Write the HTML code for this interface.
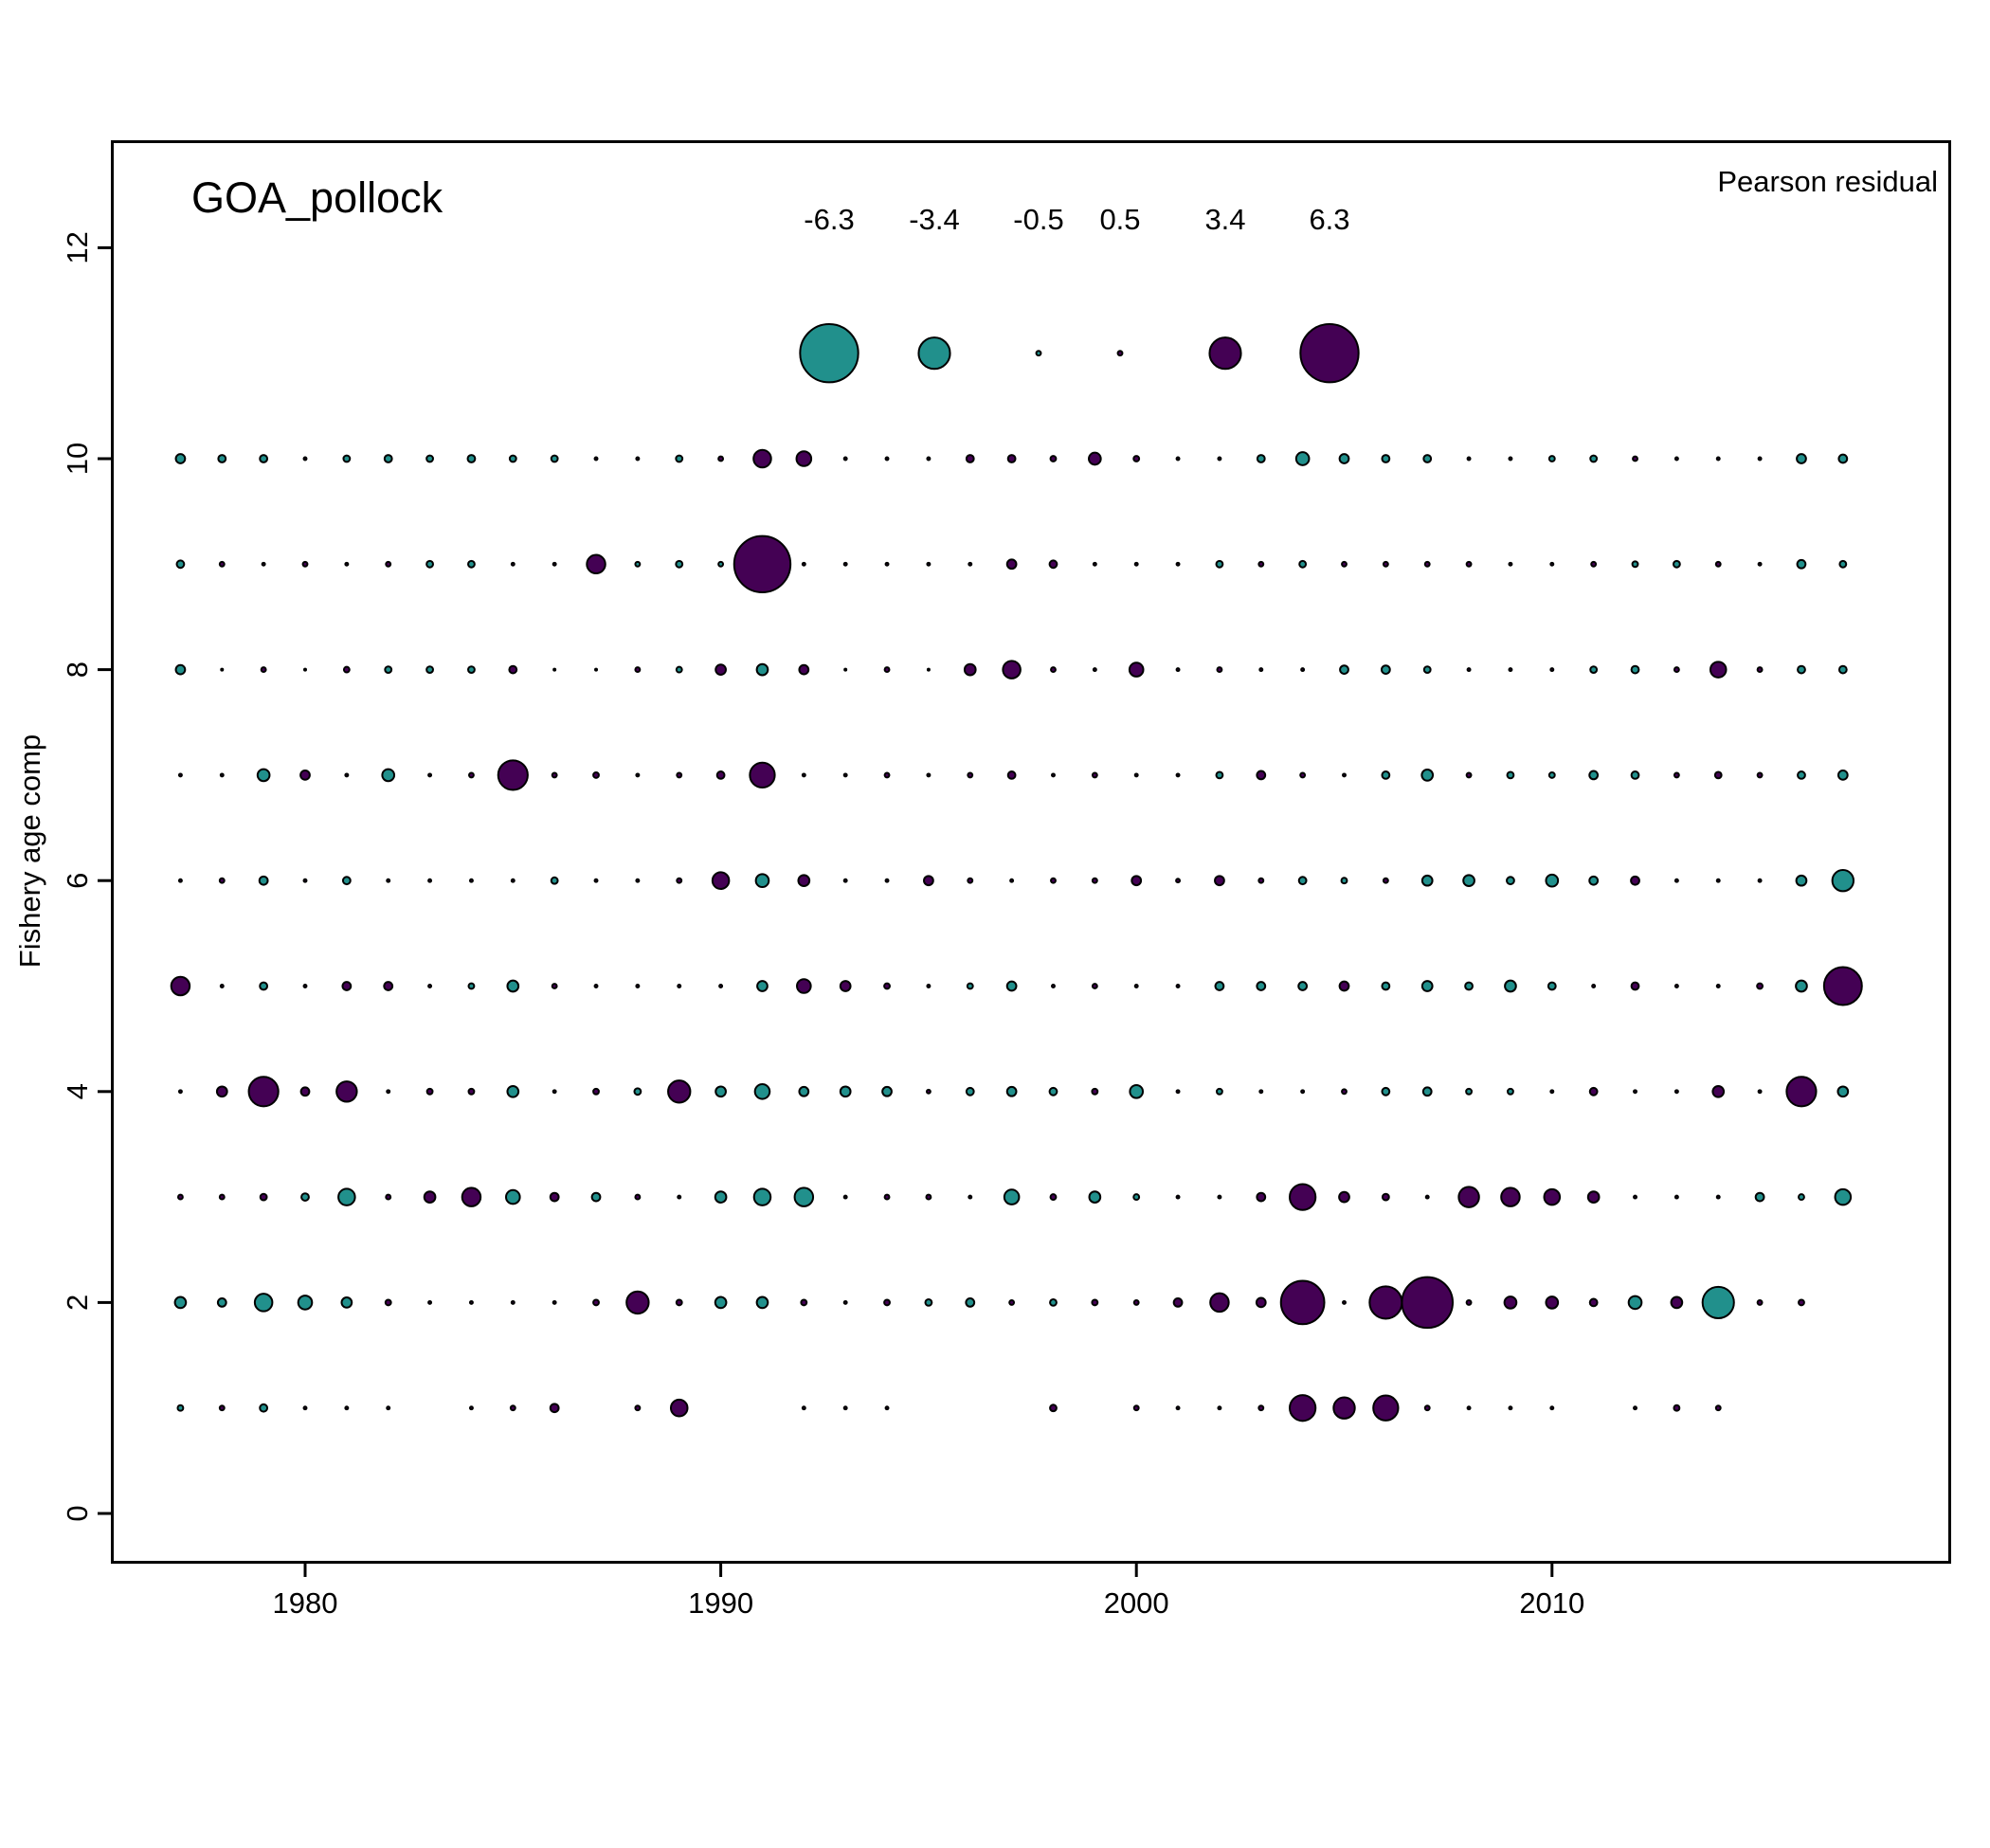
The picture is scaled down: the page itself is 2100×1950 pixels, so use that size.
<!DOCTYPE html>
<html>
<head>
<meta charset="utf-8">
<style>
  html,body{margin:0;padding:0;background:#fff;}
  svg{display:block;font-family:"Liberation Sans",Arial,sans-serif;}
</style>
</head>
<body>
<svg id="chart" width="2100" height="1950" viewBox="0 0 2100 1950" xmlns="http://www.w3.org/2000/svg">
  <rect x="0" y="0" width="2100" height="1950" fill="#fff"/>
  <g id="bubbles"></g>
  <g id="legend"></g>
  <rect x="118.5" y="149.5" width="1939" height="1499" fill="none" stroke="#000" stroke-width="3"/>
  <g id="xaxis"></g>
  <g id="yaxis"></g>
  <text x="202" y="224" font-size="45">GOA_pollock</text>
  <text x="2045" y="202" font-size="31" text-anchor="end">Pearson residual</text>
  <text x="0" y="0" font-size="31" text-anchor="middle" transform="translate(42,898) rotate(-90)">Fishery age comp</text>
</svg>
<script>
const years = [];
for (let y = 1977; y <= 2017; y++) years.push(y);
const ages = [1,2,3,4,5,6,7,8,9,10];
const age1 = [-0.6,0.5,-0.8,0.3,0.3,0.3,null,0.3,0.5,0.9,null,0.5,1.8,null,null,0.3,0.3,0.3,null,null,null,0.7,null,0.5,0.3,0.3,0.5,2.8,2.3,2.7,0.5,0.3,0.3,0.3,null,0.3,0.6,0.5,null,null,null];
const age2 = [-1.2,-0.9,-1.9,-1.5,-1.1,0.6,0.3,0.3,0.3,0.3,0.6,2.4,0.6,-1.2,-1.2,0.6,0.3,0.6,-0.7,-0.9,0.5,-0.7,0.6,0.5,0.9,2.0,1.0,4.7,0.3,3.5,5.5,0.5,1.3,1.3,0.8,-1.4,1.2,-3.4,0.5,0.6,null];
const age3 = [0.5,0.5,0.7,-0.8,-1.8,0.5,1.2,2.0,-1.5,0.9,-0.9,0.5,0.3,-1.2,-1.8,-2.0,0.3,0.5,0.5,0.3,-1.6,0.6,-1.2,-0.6,0.3,0.3,0.9,2.8,1.1,0.7,0.3,2.2,2.0,1.7,1.2,0.3,0.3,0.3,-0.9,-0.6,-1.7];
const age4 = [0.3,1.1,3.2,0.9,2.2,0.3,0.6,0.6,-1.2,0.3,0.6,-0.7,2.4,-1.1,-1.6,-1.0,-1.1,-1.0,0.4,-0.8,-1.0,-0.8,0.6,-1.4,0.3,-0.6,0.3,0.3,0.5,-0.8,-0.9,-0.6,-0.6,0.3,0.8,0.3,0.3,1.2,0.3,3.2,-1.1];
const age5 = [2.0,0.3,-0.8,0.3,0.9,0.9,0.3,-0.6,-1.2,0.5,0.3,0.3,0.3,0.3,-1.1,1.5,1.1,0.6,0.3,-0.6,-1.0,0.3,0.5,0.3,0.3,-0.9,-0.9,-0.9,1.0,-0.8,-1.1,-0.8,-1.2,-0.8,0.3,0.8,0.3,0.3,0.6,-1.2,4.1];
const age6 = [0.3,0.5,-0.9,0.3,-0.8,0.3,0.3,0.3,0.3,-0.7,0.3,0.3,0.5,1.8,-1.4,1.2,0.3,0.3,1.0,0.5,0.3,0.5,0.5,1.0,0.4,1.0,0.5,-0.8,-0.6,0.5,-1.1,-1.2,-0.8,-1.3,-0.9,0.9,0.3,0.3,0.3,-1.1,-2.3];
const age7 = [0.3,0.3,-1.3,1.0,0.3,-1.3,0.3,0.5,3.2,0.5,0.6,0.3,0.5,0.8,2.7,0.3,0.3,0.5,0.3,0.5,0.8,0.3,0.5,0.3,0.3,-0.7,0.9,0.5,0.3,-0.8,-1.2,0.5,-0.7,-0.6,-0.9,-0.8,0.5,0.7,0.5,-0.8,-1.0];
const age8 = [-1.0,0.2,0.5,0.2,0.6,-0.7,-0.7,-0.7,0.8,0.2,0.2,0.5,-0.6,1.1,-1.2,1.0,0.2,0.5,0.2,1.2,1.9,0.5,0.3,1.5,0.3,0.5,0.3,0.3,-0.9,-0.9,-0.7,0.3,0.3,0.3,-0.7,-0.8,0.5,1.7,0.5,-0.8,-0.8];
const age9 = [-0.8,0.5,0.3,0.5,0.3,0.5,-0.7,-0.7,0.3,0.3,2.0,-0.5,-0.7,-0.5,6.1,0.3,0.3,0.3,0.3,0.3,1.0,0.8,0.3,0.3,0.3,-0.7,0.5,-0.7,0.5,0.5,0.5,0.5,0.3,0.3,0.5,-0.6,-0.7,0.5,0.3,-0.9,-0.7];
const age10 = [-1.0,-0.8,-0.8,0.3,-0.7,-0.8,-0.7,-0.8,-0.7,-0.7,0.3,0.3,-0.7,0.5,1.9,1.6,0.3,0.3,0.3,0.8,0.8,0.6,1.3,0.6,0.3,0.3,-0.8,-1.4,-1.0,-0.8,-0.8,0.3,0.3,-0.6,-0.7,0.5,0.3,0.3,0.3,-1.0,-0.9];
const residuals = [age1,age2,age3,age4,age5,age6,age7,age8,age9,age10];
const legendValues = [-6.3,-3.4,-0.5,0.5,3.4,6.3];
const legendLabels = ["-6.3","-3.4","-0.5","0.5","3.4","6.3"];
const legendAge = 11;
const xTicks = [1980,1990,2000,2010];
const yTicks = [0,2,4,6,8,10,12];

const NS = "http://www.w3.org/2000/svg";
function xScale(yr){ return 322 + (yr - 1980) * 43.86; }
function yScale(a){ return 1597 - a * 111.3; }
function rScale(v){ return Math.abs(v) * 4.87; }
function fill(v){ return v < 0 ? "#21908C" : "#440154"; }
function mk(tag, attrs, parent){
  const e = document.createElementNS(NS, tag);
  for (const k in attrs) e.setAttribute(k, attrs[k]);
  parent.appendChild(e);
  return e;
}

const gB = document.getElementById("bubbles");
residuals.forEach((row, ai) => {
  row.forEach((v, yi) => {
    if (v === null) return;
    const c = mk("circle", {cx: xScale(years[yi]), cy: yScale(ages[ai]), r: Math.max(rScale(v), 1), fill: fill(v), stroke: "#000", "stroke-width": 2}, gB);
    
    
  });
});

const legendX = [875, 986, 1096, 1182, 1293, 1403];
const gL = document.getElementById("legend");
legendValues.forEach((v, i) => {
  const c = mk("circle", {cx: legendX[i], cy: yScale(legendAge), r: Math.max(rScale(v), 1), fill: fill(v), stroke: "#000", "stroke-width": 2}, gL);
  
  
  const t = mk("text", {x: legendX[i], y: 242, "font-size": 31, "text-anchor": "middle"}, gL);
  t.textContent = legendLabels[i];
  
  
});

const gX = document.getElementById("xaxis");
xTicks.forEach(t => {
  const l = mk("line", {x1: xScale(t), x2: xScale(t), y1: 1649, y2: 1664, stroke: "#000", "stroke-width": 3}, gX);
  
  
  const tx = mk("text", {x: xScale(t), y: 1702, "font-size": 31, "text-anchor": "middle"}, gX);
  tx.textContent = String(t);
  
  
});

const gY = document.getElementById("yaxis");
yTicks.forEach(t => {
  const l = mk("line", {x1: 103, x2: 118, y1: yScale(t), y2: yScale(t), stroke: "#000", "stroke-width": 3}, gY);
  
  
  const tx = mk("text", {x: 0, y: 0, "font-size": 31, "text-anchor": "middle", transform: "translate(92," + yScale(t) + ") rotate(-90)"}, gY);
  tx.textContent = String(t);
  
  
});
</script>
</body>
</html>
